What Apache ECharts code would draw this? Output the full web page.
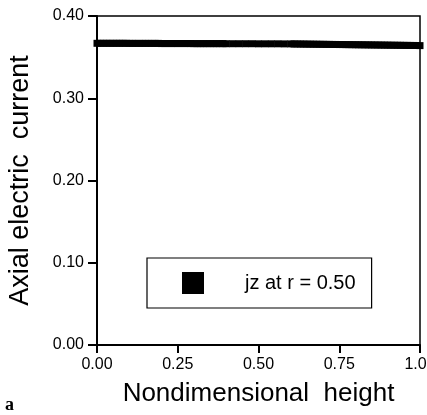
<!DOCTYPE html>
<html>
<head>
<meta charset="utf-8">
<script src="https://cdn.jsdelivr.net/npm/echarts@6/dist/echarts.min.js"></script>
<style>
  html, body { margin: 0; padding: 0; background: #fff; }
  #chart { width: 427px; height: 415px; }
</style>
</head>
<body>
<div id="chart"></div>
<script>
// Axial current jz at r = 0.50 versus nondimensional height
const heights = [
  0.00, 0.01, 0.02, 0.03, 0.04, 0.05, 0.06, 0.07, 0.08, 0.09,
  0.10, 0.11, 0.12, 0.13, 0.14, 0.15, 0.16, 0.17, 0.18, 0.19,
  0.20, 0.21, 0.22, 0.23, 0.24, 0.25, 0.26, 0.27, 0.28, 0.29,
  0.30, 0.31, 0.32, 0.33, 0.34, 0.35, 0.36, 0.37, 0.38, 0.39,
  0.40, 0.42, 0.44, 0.46, 0.48, 0.50, 0.52, 0.54, 0.56, 0.58,
  0.60, 0.61, 0.62, 0.63, 0.64, 0.65, 0.66, 0.67, 0.68, 0.69,
  0.70, 0.71, 0.72, 0.73, 0.74, 0.75, 0.76, 0.77, 0.78, 0.79,
  0.80, 0.81, 0.82, 0.83, 0.84, 0.85, 0.86, 0.87, 0.88, 0.89,
  0.90, 0.91, 0.92, 0.93, 0.94, 0.95, 0.96, 0.97, 0.98, 0.99,
  1.00
];
const jz = [
  0.3668, 0.3668, 0.3668, 0.3668, 0.3668, 0.3668, 0.3668, 0.3668, 0.3668, 0.3668,
  0.3667, 0.3667, 0.3667, 0.3667, 0.3667, 0.3667, 0.3667, 0.3667, 0.3667, 0.3667,
  0.3665, 0.3665, 0.3665, 0.3665, 0.3665, 0.3665, 0.3665, 0.3665, 0.3665, 0.3665,
  0.3664, 0.3664, 0.3664, 0.3664, 0.3664, 0.3664, 0.3664, 0.3664, 0.3664, 0.3664,
  0.3663, 0.3663, 0.3663, 0.3663, 0.3663, 0.3662, 0.3662, 0.3662, 0.3662, 0.3661,
  0.3661, 0.3660, 0.3660, 0.3659, 0.3659, 0.3658, 0.3658, 0.3657, 0.3657, 0.3656,
  0.3656, 0.3655, 0.3655, 0.3654, 0.3654, 0.3653, 0.3653, 0.3652, 0.3652, 0.3651,
  0.3651, 0.3650, 0.3650, 0.3649, 0.3649, 0.3648, 0.3648, 0.3647, 0.3647, 0.3646,
  0.3646, 0.3645, 0.3645, 0.3644, 0.3644, 0.3643, 0.3643, 0.3642, 0.3642, 0.3641,
  0.3640
];
const seriesName = 'jz at r = 0.50';
const xTitle = 'Nondimensional  height';
const yTitle = 'Axial electric  current';

const chart = echarts.init(document.getElementById('chart'), null, { renderer: 'canvas' });
const font = 'Liberation Sans, Arial, sans-serif';

chart.setOption({
  animation: false,
  backgroundColor: '#fff',
  grid: {
    left: 97, right: 7, top: 16, bottom: 70,
    outerBoundsMode: 'none', containLabel: false,
    show: true, borderColor: '#000', borderWidth: 1.5, backgroundColor: 'transparent'
  },
  legend: {
    data: [{ name: seriesName, icon: 'rect' }],
    left: 147, top: 258,
    orient: 'vertical',
    padding: [14, 16, 14, 35],
    itemWidth: 22, itemHeight: 22,
    borderColor: '#000', borderWidth: 1.2,
    backgroundColor: '#fff',
    itemStyle: { color: '#000', opacity: 1 },
    textStyle: { fontFamily: font, fontSize: 20, color: '#000', padding: [0, 0, 0, 36] },
    selectedMode: false
  },
  xAxis: {
    type: 'value', min: 0, max: 1, interval: 0.25,
    name: xTitle, nameLocation: 'middle', nameGap: 36,
    nameTextStyle: { fontFamily: font, fontSize: 26, color: '#000' },
    axisLine: { lineStyle: { color: '#000', width: 2 } },
    axisTick: { show: true, length: 8, lineStyle: { color: '#000', width: 2 } },
    axisLabel: { fontFamily: font, fontSize: 16, color: '#000', margin: 12,
                 formatter: v => v.toFixed(2) },
    splitLine: { show: false }
  },
  yAxis: {
    type: 'value', min: 0, max: 0.4, interval: 0.1,
    name: yTitle, nameLocation: 'middle', nameGap: 63, nameRotate: 90,
    nameTextStyle: { fontFamily: font, fontSize: 27, color: '#000' },
    axisLine: { lineStyle: { color: '#000', width: 2 } },
    axisTick: { show: true, length: 9, lineStyle: { color: '#000', width: 2 } },
    axisLabel: { fontFamily: font, fontSize: 16, color: '#000', margin: 13,
                 formatter: v => v.toFixed(2) },
    splitLine: { show: false }
  },
  graphic: [{
    type: 'text', left: 5, top: 396,
    style: { text: 'a', font: 'bold 18px "Liberation Serif", serif', fill: '#000' }
  }],
  series: [{
    name: seriesName,
    type: 'scatter',
    symbol: 'rect',
    symbolSize: 7,
    itemStyle: { color: '#000', opacity: 1 },
    data: heights.map((h, i) => [h, jz[i]])
  }]
});
</script>
</body>
</html>
